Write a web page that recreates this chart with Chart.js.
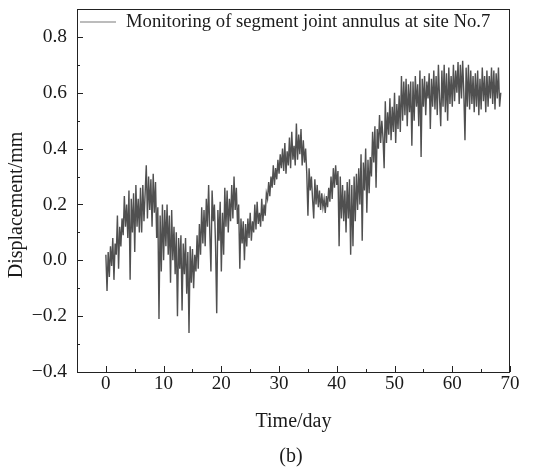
<!DOCTYPE html>
<html>
<head>
<meta charset="utf-8">
<script src="https://cdn.jsdelivr.net/npm/chart.js@4.4.1/dist/chart.umd.min.js"></script>
<style>
  html, body { margin: 0; padding: 0; background: #fff; }
  #wrap { width: 538px; height: 470px; }
</style>
</head>
<body>
<div id="wrap"><canvas id="chart" width="538" height="470"></canvas></div>
<script>
const seriesName = "Monitoring of segment joint annulus at site No.7";
const xTitle = "Time/day";
const yTitle = "Displacement/mm";
const panelLabel = "(b)";

// samples every 0.2 day starting at day 0, 5 per row = 1 day
const startDay = 0;
const stepDay = 0.2;
const displacement = [
  0.02, -0.11, 0.03, -0.06, 0.05,
  -0.02, 0.08, -0.07, 0.06, 0.02,
  0.16, -0.03, 0.12, 0.05, 0.15,
  0.09, 0.23, 0.12, 0.20, 0.08,
  0.25, -0.07, 0.22, 0.10, 0.24,
  0.03, 0.27, 0.12, 0.22, 0.10,
  0.26, 0.10, 0.27, 0.14, 0.24,
  0.34, 0.15, 0.30, 0.18, 0.29,
  0.12, 0.31, 0.17, 0.28, 0.08,
  0.19, -0.21, 0.16, -0.04, 0.20,
  0.00, 0.18, 0.05, 0.20, 0.02,
  0.16, -0.08, 0.18, 0.00, 0.12,
  -0.05, 0.10, -0.20, 0.08, -0.03,
  0.09, -0.18, 0.06, -0.05, 0.08,
  -0.12, 0.03, -0.26, 0.05, -0.08,
  0.04, -0.10, 0.02, -0.04, 0.09,
  -0.03, 0.13, 0.02, 0.19, 0.06,
  0.18, 0.05, 0.22, 0.12, 0.27,
  0.10, -0.04, 0.25, 0.14, 0.20,
  0.05, -0.19, 0.18, 0.07, 0.21,
  -0.04, 0.17, 0.02, 0.26, 0.12,
  0.25, 0.10, 0.22, 0.14, 0.27,
  0.15, 0.30, 0.18, 0.26, 0.13,
  0.20, -0.03, 0.15, 0.06, 0.14,
  0.00, 0.13, 0.05, 0.15, 0.08,
  0.17, 0.07, 0.14, 0.10, 0.20,
  0.11, 0.21, 0.13, 0.17, 0.12,
  0.22, 0.14, 0.20, 0.16, 0.24,
  0.22, 0.28, 0.23, 0.30, 0.26,
  0.34, 0.27, 0.33, 0.29, 0.36,
  0.31, 0.38, 0.33, 0.40, 0.32,
  0.42, 0.31, 0.39, 0.34, 0.44,
  0.33, 0.46, 0.36, 0.41, 0.34,
  0.49, 0.36, 0.45, 0.38, 0.47,
  0.34, 0.43, 0.35, 0.40, 0.31,
  0.16, 0.33, 0.25, 0.30, 0.22,
  0.15, 0.29, 0.20, 0.27, 0.19,
  0.25, 0.18, 0.24, 0.19, 0.22,
  0.17, 0.23, 0.19, 0.26, 0.21,
  0.30, 0.22, 0.33, 0.26, 0.34,
  0.27, 0.32, 0.05, 0.30, 0.15,
  0.27, 0.14, 0.25, 0.10, 0.28,
  0.15, 0.29, 0.02, 0.27, 0.05,
  0.30, 0.14, 0.31, 0.18, 0.33,
  0.20, 0.38, 0.07, 0.35, 0.25,
  0.40, 0.17, 0.36, 0.24, 0.37,
  0.30, 0.46, 0.35, 0.48, 0.26,
  0.47, 0.40, 0.52, 0.42, 0.50,
  0.44, 0.33, 0.57, 0.42, 0.53,
  0.45, 0.58, 0.43, 0.55, 0.46,
  0.60, 0.42, 0.56, 0.47, 0.59,
  0.46, 0.66, 0.50, 0.64, 0.52,
  0.65, 0.48, 0.63, 0.53, 0.64,
  0.41, 0.64, 0.50, 0.66, 0.55,
  0.63, 0.48, 0.68, 0.37, 0.65,
  0.55, 0.66, 0.52, 0.64, 0.58,
  0.67, 0.47, 0.65, 0.55, 0.68,
  0.54, 0.66, 0.52, 0.70, 0.58,
  0.48, 0.68, 0.55, 0.70, 0.53,
  0.67, 0.50, 0.69, 0.56, 0.66,
  0.55, 0.70, 0.57, 0.68, 0.60,
  0.71, 0.56, 0.70, 0.58, 0.715,
  0.60, 0.43, 0.69, 0.55, 0.70,
  0.54, 0.68, 0.56, 0.66, 0.53,
  0.67, 0.55, 0.68, 0.52, 0.65,
  0.54, 0.69, 0.57, 0.66, 0.53,
  0.68, 0.55, 0.66, 0.58, 0.69,
  0.56, 0.68, 0.54, 0.67, 0.58,
  0.69, 0.55, 0.60
];

const xTicks = [0, 10, 20, 30, 40, 50, 60, 70];
const xMinorTicks = [5, 15, 25, 35, 45, 55, 65];
const yTicks = [-0.4, -0.2, 0.0, 0.2, 0.4, 0.6, 0.8];
const yMinorTicks = [-0.3, -0.1, 0.1, 0.3, 0.5, 0.7];

const SERIF = '"Liberation Serif", "Times New Roman", serif';
const INK = "#1a1a1a";

const points = displacement.map((v, i) => ({ x: +(startDay + i * stepDay).toFixed(2), y: v }));

// frame, inward ticks, titles and legend
const decor = {
    id: "decor",
    afterDraw(chart) {
        const { ctx, chartArea: a, scales } = chart;
        const sx = scales.x, sy = scales.y;
        ctx.save();
        ctx.strokeStyle = "#222";
        ctx.lineWidth = 1;
        ctx.strokeRect(a.left + 0.5, a.top + 0.5, a.right - a.left - 1, a.bottom - a.top);

        ctx.beginPath();
        const tick = (vals, len, horiz) => {
            vals.forEach((v) => {
                if (horiz) {
                    const px = Math.round(sx.getPixelForValue(v)) + 0.5;
                    ctx.moveTo(px, a.bottom);
                    ctx.lineTo(px, a.bottom - len);
                } else {
                    const py = Math.round(sy.getPixelForValue(v)) + 0.5;
                    ctx.moveTo(a.left, py);
                    ctx.lineTo(a.left + len, py);
                }
            });
        };
        tick(xTicks, 6, true);
        tick(xMinorTicks, 3, true);
        tick(yTicks, 6, false);
        tick(yMinorTicks, 3, false);
        ctx.stroke();

        ctx.fillStyle = INK;
        ctx.font = "20px " + SERIF;
        ctx.textAlign = "center";
        ctx.textBaseline = "middle";
        ctx.fillText(xTitle, (a.left + a.right) / 2, 422);
        ctx.fillText(panelLabel, 291, 457);
        ctx.save();
        ctx.translate(17, 205);
        ctx.rotate(-Math.PI / 2);
        ctx.fillText(yTitle, 0, 0);
        ctx.restore();

        // legend
        ctx.strokeStyle = "#a6a6a6";
        ctx.lineWidth = 1.5;
        ctx.beginPath();
        ctx.moveTo(80, 22);
        ctx.lineTo(116, 22);
        ctx.stroke();
        ctx.font = "18.7px " + SERIF;
        ctx.textAlign = "left";
        ctx.fillText(seriesName, 126, 22);
        ctx.restore();
    }
};

new Chart(document.getElementById("chart"), {
    type: "line",
    data: {
        datasets: [{
            label: seriesName,
            data: points,
            borderColor: "#505050",
            borderWidth: 1.4,
            pointRadius: 0,
            tension: 0,
            fill: false
        }]
    },
    options: {
        responsive: false,
        animation: false,
        layout: { padding: { left: 0, right: 28, top: 9, bottom: 0 } },
        plugins: { legend: { display: false }, tooltip: { enabled: false } },
        scales: {
            x: {
                type: "linear",
                min: -5,
                max: 70,
                afterBuildTicks: (s) => { s.ticks = xTicks.map((v) => ({ value: v })); },
                afterFit: (s) => { s.height = 98; s.paddingLeft = 0; s.paddingRight = 0; },
                grid: { display: false, drawTicks: false },
                border: { display: false },
                ticks: { padding: 1, color: INK, font: { family: SERIF, size: 19 }, maxRotation: 0 }
            },
            y: {
                min: -0.4,
                max: 0.9,
                afterBuildTicks: (s) => { s.ticks = yTicks.map((v) => ({ value: v })); },
                afterFit: (s) => { s.width = 77; s.paddingTop = 0; s.paddingBottom = 0; },
                grid: { display: false, drawTicks: false },
                border: { display: false },
                ticks: {
                    padding: 10,
                    color: INK,
                    font: { family: SERIF, size: 19.5 },
                    callback: (v) => v.toFixed(1).replace("-", "\u2212")
                }
            }
        }
    },
    plugins: [decor]
});
</script>
</body>
</html>
